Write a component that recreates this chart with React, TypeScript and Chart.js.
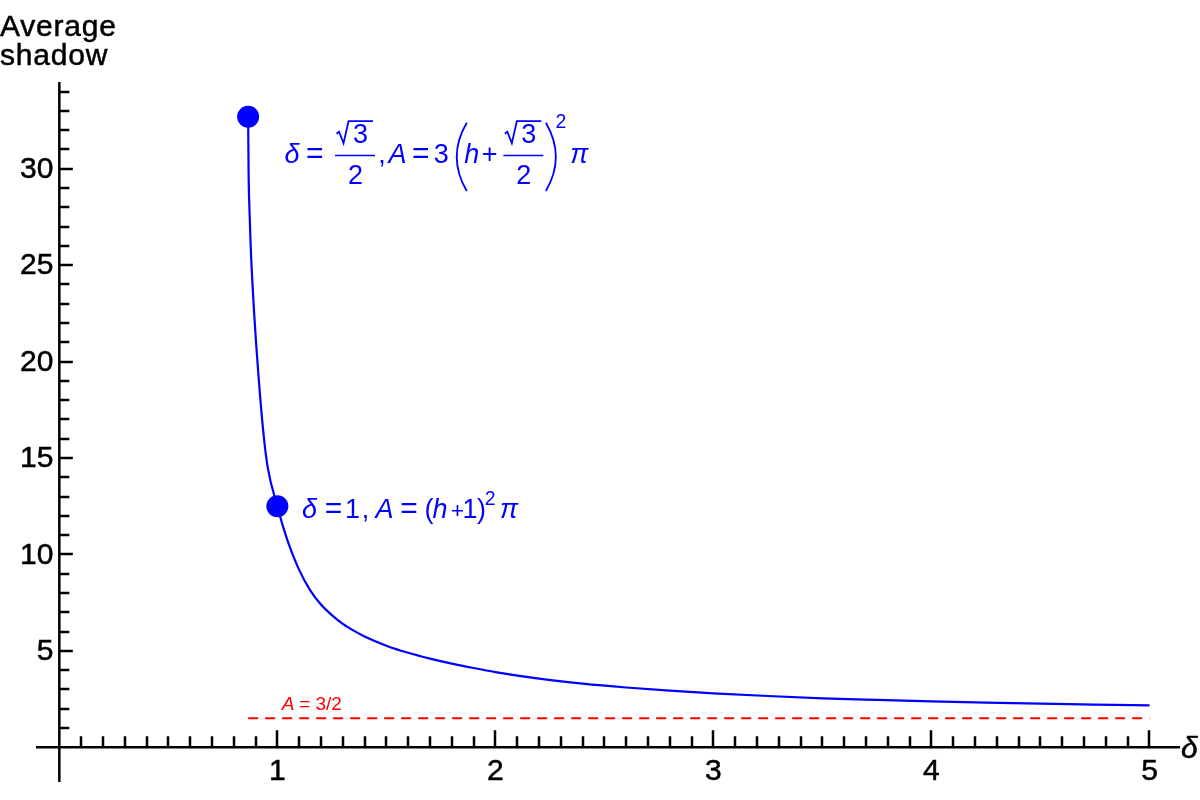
import { useEffect, useRef } from 'react'
import { Chart, registerables, Plugin } from 'chart.js'

Chart.register(...registerables)

// curve: average shadow against delta
const deltaValues = [0.866, 0.868, 0.872, 0.878, 0.89, 0.908, 0.936, 0.956, 1.0, 1.03, 1.06, 1.1, 1.15, 1.2, 1.25, 1.3, 1.35, 1.4, 1.5, 1.6, 1.7, 1.8, 1.9, 2.0, 2.2, 2.4, 2.6, 2.8, 3.0, 3.25, 3.5, 3.75, 4.0, 4.25, 4.5, 4.75, 5.0]
const shadowValues = [32.7, 29.9, 27.9, 25.9, 23.2, 20.1, 16.3, 14.5, 12.5, 11.3, 10.3, 9.2, 8.15, 7.4, 6.85, 6.4, 6.05, 5.75, 5.27, 4.9, 4.6, 4.34, 4.11, 3.9, 3.56, 3.3, 3.1, 2.94, 2.8, 2.66, 2.54, 2.455, 2.38, 2.315, 2.26, 2.21, 2.17]

// the two marked points
const markedDelta = [0.866, 1]
const markedShadow = [32.7, 12.5]

// dashed limit A = 3/2
const limitDelta = [0.866, 5]
const limitShadow = [1.5, 1.5]

// axes
const xRange = [-0.107, 5.14]
const yRange = [-1.8, 34.5]
const xMajorTicks = [1, 2, 3, 4, 5]
const yMajorTicks = [5, 10, 15, 20, 25, 30]
const xMinorStep = 0.1
const yMinorStep = 1

const FONT = '"Liberation Sans", Arial, sans-serif'
const BLUE = '#0000ff'
const RED = '#ff0000'

// draw one glyph group centred on cx
function put(ctx: CanvasRenderingContext2D, text: string, cx: number, y: number, size: number, italic = false) {
  ctx.font = `${italic ? 'italic ' : ''}${size}px ${FONT}`
  ctx.textAlign = 'center'
  ctx.fillText(text, cx, y)
}

// sqrt(3) over 2, centred on fc
function sqrtThreeHalves(ctx: CanvasRenderingContext2D, fc: number, base: number, size: number) {
  const nb = base - 20
  put(ctx, '3', fc + 5.5, nb, size)
  put(ctx, '2', fc + 0.5, base + 21.7, size)
  ctx.lineWidth = 1.8
  ctx.lineJoin = 'miter'
  ctx.beginPath()
  ctx.moveTo(fc - 18.5, nb - 9)
  ctx.lineTo(fc - 16, nb - 11)
  ctx.lineTo(fc - 11.5, nb + 0.5)
  ctx.lineTo(fc - 6.5, nb - 21.5)
  ctx.lineTo(fc + 18, nb - 21.5)
  ctx.stroke()
  ctx.lineWidth = 1.5
  ctx.beginPath()
  ctx.moveTo(fc - 20, base - 7.3)
  ctx.lineTo(fc + 20, base - 7.3)
  ctx.stroke()
}

function bigParen(ctx: CanvasRenderingContext2D, cx: number, base: number, open: boolean) {
  const top = base - 40
  const bottom = base + 28.3
  const dir = open ? 1 : -1
  ctx.lineWidth = 1.8
  ctx.beginPath()
  ctx.moveTo(cx + dir * 5, top)
  ctx.quadraticCurveTo(cx - dir * 15, (top + bottom) / 2, cx + dir * 5, bottom)
  ctx.stroke()
}

function heavyText(ctx: CanvasRenderingContext2D, text: string, x: number, y: number) {
  ctx.fillText(text, x, y)
  ctx.strokeText(text, x, y)
}

const axesPlugin: Plugin = {
  id: 'mathAxes',
  beforeDatasetsDraw(chart) {
    const { ctx, chartArea } = chart
    const xs = chart.scales.x
    const ys = chart.scales.y
    const x0 = xs.getPixelForValue(0)
    const y0 = ys.getPixelForValue(0)
    ctx.save()
    ctx.strokeStyle = '#000'
    ctx.lineWidth = 2.5
    ctx.beginPath()
    ctx.moveTo(chartArea.left, y0)
    ctx.lineTo(chartArea.right, y0)
    ctx.moveTo(x0, chartArea.top)
    ctx.lineTo(x0, chartArea.bottom)
    const xLast = xMajorTicks[xMajorTicks.length - 1]
    for (let i = 1; i * xMinorStep <= xLast + 1e-9; i++) {
      const v = i * xMinorStep
      const major = xMajorTicks.some(t => Math.abs(t - v) < 1e-6)
      const px = Math.round(xs.getPixelForValue(v))
      ctx.moveTo(px, y0)
      ctx.lineTo(px, y0 - (major ? 17 : 11))
    }
    for (let i = 1; i * yMinorStep <= yRange[1]; i++) {
      const v = i * yMinorStep
      const major = yMajorTicks.includes(v)
      const py = Math.round(ys.getPixelForValue(v))
      ctx.moveTo(x0, py)
      ctx.lineTo(x0 + (major ? 13.5 : 10), py)
    }
    ctx.stroke()

    ctx.fillStyle = '#000'
    ctx.lineWidth = 0.5
    ctx.font = `30px ${FONT}`
    ctx.textAlign = 'center'
    ctx.textBaseline = 'alphabetic'
    xMajorTicks.forEach(t => heavyText(ctx, String(t), xs.getPixelForValue(t), y0 + 33))
    ctx.textAlign = 'right'
    ctx.textBaseline = 'middle'
    yMajorTicks.forEach(t => heavyText(ctx, String(t), x0 - 6, ys.getPixelForValue(t) + 1))

    ctx.textAlign = 'left'
    ctx.textBaseline = 'alphabetic'
    ctx.font = `30px ${FONT}`
    ;(ctx as any).letterSpacing = '0.8px'
    heavyText(ctx, 'Average', 0, 36)
    heavyText(ctx, 'shadow', 0, 65)
    ;(ctx as any).letterSpacing = '0px'
    ctx.font = `italic 30px ${FONT}`
    heavyText(ctx, '\u03B4', chartArea.right + 1, y0 + 11)
    ctx.restore()
  },
  afterDatasetsDraw(chart) {
    const { ctx } = chart
    const xs = chart.scales.x
    const ys = chart.scales.y
    ctx.save()
    ctx.textBaseline = 'alphabetic'

    // label of the dashed limit
    ctx.fillStyle = RED
    const lx = xs.getPixelForValue(limitDelta[0])
    const ly = ys.getPixelForValue(limitShadow[0]) - 8.4
    put(ctx, 'A', lx + 40, ly, 19, true)
    ctx.font = `19px ${FONT}`
    ctx.textAlign = 'left'
    ctx.fillText('= 3/2', lx + 51, ly)

    ctx.fillStyle = BLUE
    ctx.strokeStyle = BLUE
    const size = 27
    const eq = 30

    // first marked point: delta = sqrt3/2
    let ax = xs.getPixelForValue(markedDelta[0]) + 39.2
    let base = ys.getPixelForValue(markedShadow[0]) + 46
    put(ctx, '\u03B4', ax + 4.6, base, size, true)
    put(ctx, '=', ax + 27.4, base, eq)
    sqrtThreeHalves(ctx, ax + 67.7, base, size)
    put(ctx, ',', ax + 94.7, base, size)
    put(ctx, 'A', ax + 110.2, base, size, true)
    put(ctx, '=', ax + 133.5, base, eq)
    put(ctx, '3', ax + 154, base, size)
    bigParen(ctx, ax + 174.4, base, true)
    put(ctx, 'h', ax + 184.5, base, size, true)
    put(ctx, '+', ax + 202.4, base, size)
    sqrtThreeHalves(ctx, ax + 236, base, size)
    bigParen(ctx, ax + 263.5, base, false)
    put(ctx, '2', ax + 273.5, base - 35, size * 0.72)
    put(ctx, '\u03C0', ax + 291.9, base, size, true)

    // second marked point: delta = 1
    ax = xs.getPixelForValue(markedDelta[1]) + 27.7
    base = ys.getPixelForValue(markedShadow[1]) + 11.7
    put(ctx, '\u03B4', ax + 4.5, base, size, true)
    put(ctx, '=', ax + 28.5, base, eq)
    put(ctx, '1', ax + 47.5, base, size)
    put(ctx, ',', ax + 60.5, base, size)
    put(ctx, 'A', ax + 79.5, base, size, true)
    put(ctx, '=', ax + 104, base, eq)
    put(ctx, '(', ax + 124, base, size)
    put(ctx, 'h', ax + 135, base, size, true)
    put(ctx, '+', ax + 152.5, base, size * 0.85)
    put(ctx, '1', ax + 165, base, size)
    put(ctx, ')', ax + 176.5, base, size)
    put(ctx, '2', ax + 185, base - 13, size * 0.72)
    put(ctx, '\u03C0', ax + 204, base, size, true)
    ctx.restore()
  },
}

export default function App() {
  const canvasRef = useRef<HTMLCanvasElement>(null)

  useEffect(() => {
    if (!canvasRef.current) return
    const chart = new Chart(canvasRef.current, {
      type: 'scatter',
      data: {
        datasets: [
          {
            label: 'marked',
            data: markedDelta.map((d, i) => ({ x: d, y: markedShadow[i] })),
            pointRadius: 11,
            pointBackgroundColor: BLUE,
            pointBorderWidth: 0,
            showLine: false,
            order: 0,
          },
          {
            label: 'shadow',
            data: deltaValues.map((d, i) => ({ x: d, y: shadowValues[i] })),
            showLine: true,
            borderColor: BLUE,
            borderWidth: 2.2,
            pointRadius: 0,
            cubicInterpolationMode: 'monotone',
            order: 1,
          },
          {
            label: 'limit',
            data: limitDelta.map((d, i) => ({ x: d, y: limitShadow[i] })),
            showLine: true,
            borderColor: RED,
            borderWidth: 2,
            borderDash: [10, 7],
            pointRadius: 0,
            order: 2,
          },
        ],
      },
      options: {
        animation: false,
        responsive: true,
        maintainAspectRatio: false,
        layout: { autoPadding: false, padding: { left: 36, right: 20, top: 82, bottom: 18 } },
        plugins: { legend: { display: false }, tooltip: { enabled: false } },
        scales: {
          x: { type: 'linear', min: xRange[0], max: xRange[1], display: false },
          y: { type: 'linear', min: yRange[0], max: yRange[1], display: false },
        },
      },
      plugins: [axesPlugin],
    })
    return () => chart.destroy()
  }, [])

  return (
    <div style={{ position: 'absolute', left: 0, top: 0, width: 1200, height: 800, background: '#fff' }}>
      <canvas ref={canvasRef}></canvas>
    </div>
  )
}
